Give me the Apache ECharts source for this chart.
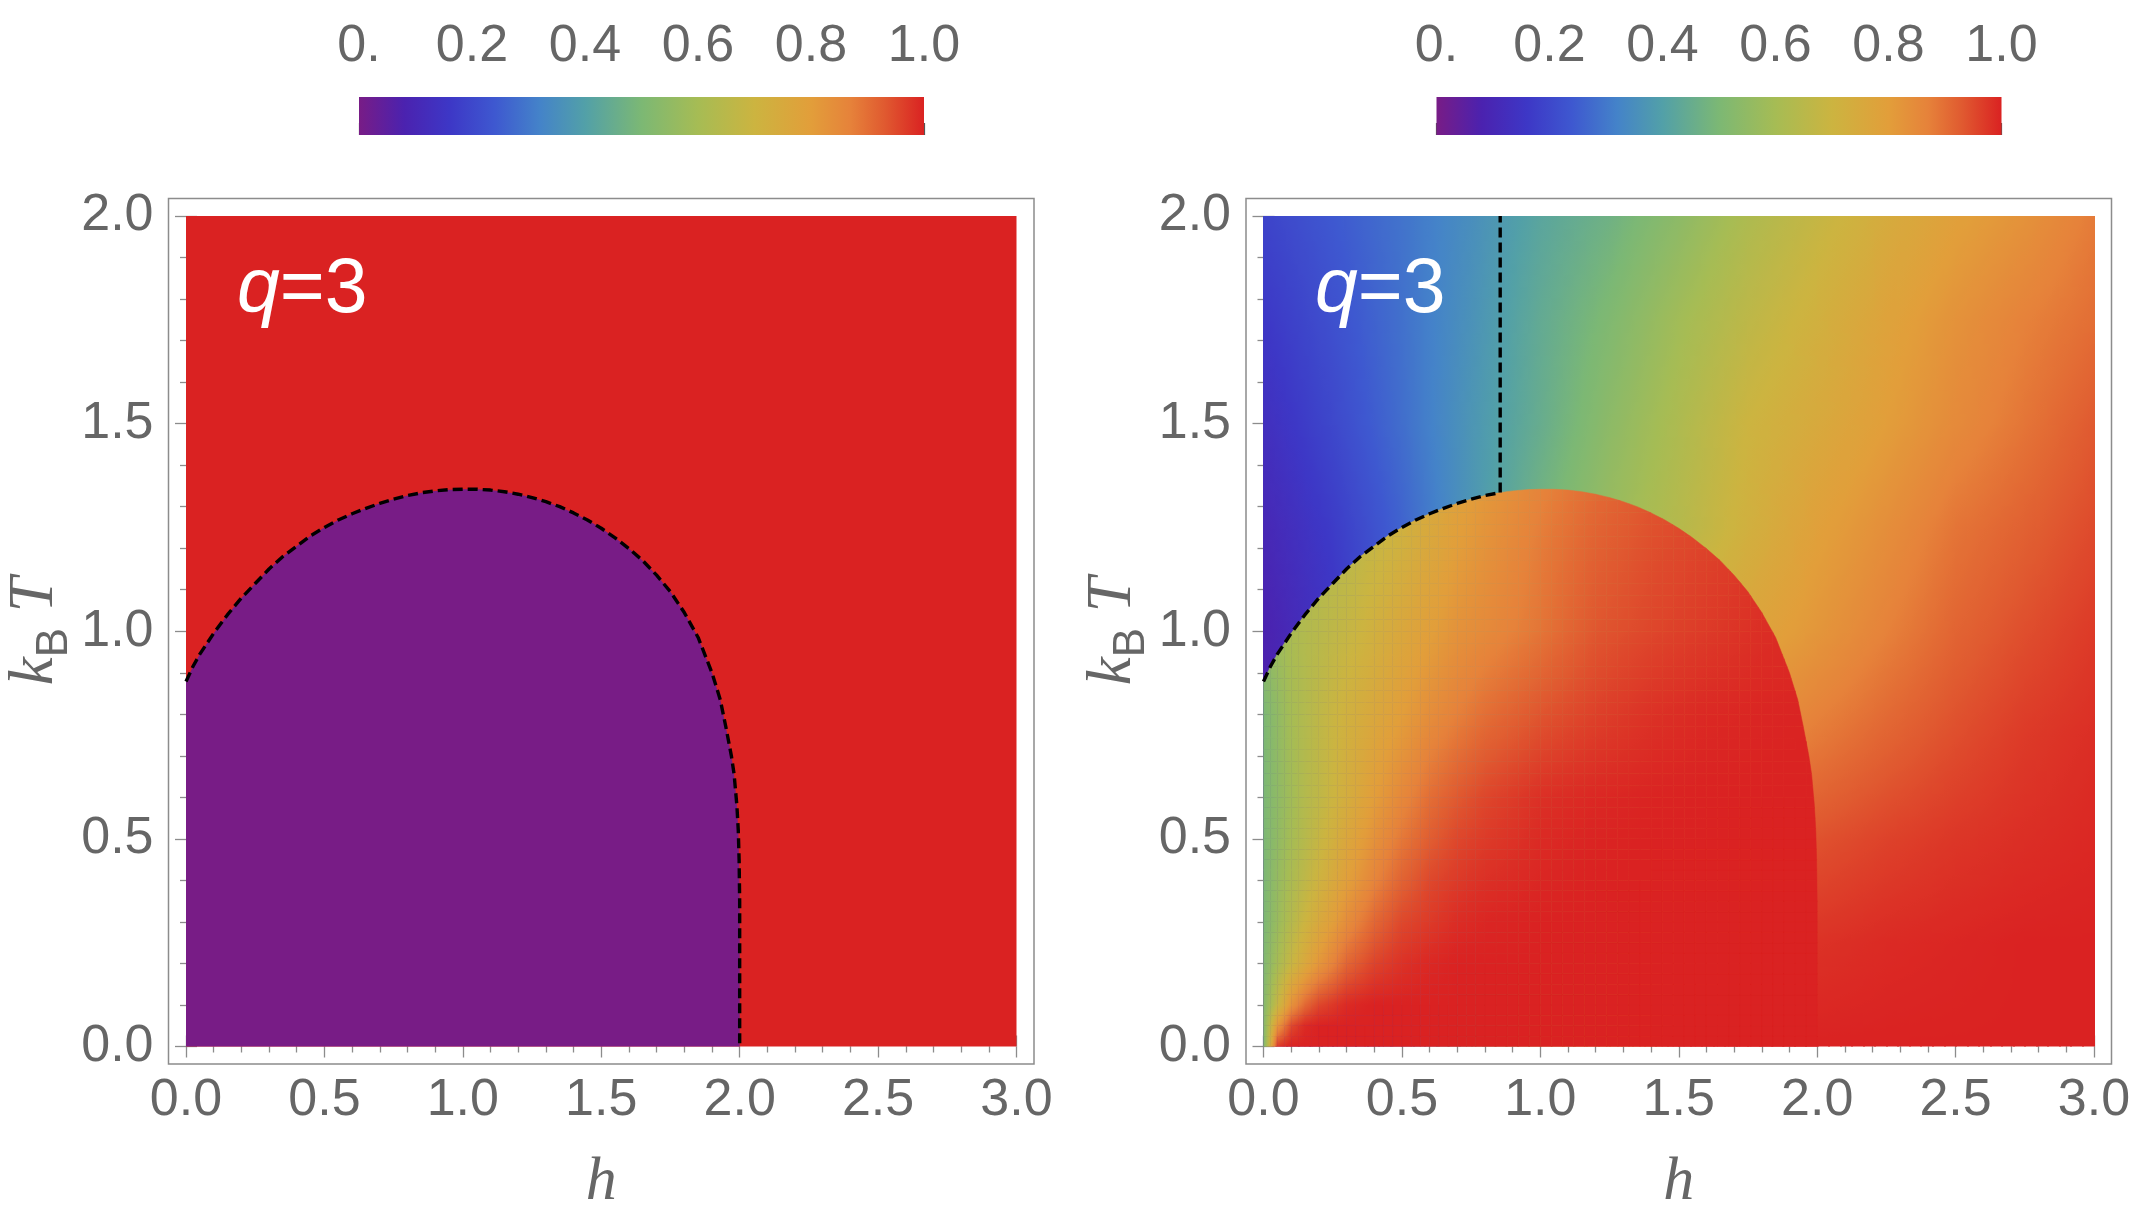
<!DOCTYPE html>
<html>
<head>
<meta charset="utf-8">
<script src="https://cdn.jsdelivr.net/npm/echarts/dist/echarts.min.js"></script>
<style>
html,body{margin:0;padding:0;background:#ffffff;}
#chart{width:2135px;height:1232px;}
</style>
</head>
<body>
<div id="chart"></div>
<script>
// ------------------------------------------------------------------
// DATA
// ------------------------------------------------------------------
const hTickLabels = ['0.0', '0.5', '1.0', '1.5', '2.0', '2.5', '3.0'];
const tTickLabels = ['0.0', '0.5', '1.0', '1.5', '2.0'];
const colorbarTickLabels = ['0.', '0.2', '0.4', '0.6', '0.8', '1.0'];

// colour scale (Mathematica "Rainbow"-like), value -> colour
const rainbowStops = [
  [0.00, '#781c86'], [0.08, '#4b22af'], [0.16, '#3d37c6'], [0.24, '#3e58d0'],
  [0.32, '#4483c9'], [0.40, '#52a0a8'], [0.50, '#7cb874'], [0.60, '#a6bc54'],
  [0.70, '#ccb440'], [0.80, '#e29e3a'], [0.87, '#e6823a'], [0.93, '#e05a30'],
  [1.00, '#da2222']
];

// phase boundary T_c(h) (dashed curve)
const boundaryH = [0.000, 0.025, 0.05, 0.075, 0.10, 0.15, 0.20, 0.25, 0.30, 0.35, 0.40, 0.45, 0.50,
  0.55, 0.60, 0.65, 0.70, 0.75, 0.80, 0.855, 0.90, 0.95, 1.00, 1.05, 1.10, 1.15, 1.20, 1.25,
  1.30, 1.35, 1.40, 1.45, 1.50, 1.55, 1.60, 1.65, 1.70, 1.75, 1.80, 1.85, 1.90, 1.93, 1.95,
  1.97, 1.98, 1.99, 1.995, 1.998, 2.000, 2.000];
const boundaryT = [0.879, 0.915, 0.945, 0.970, 0.995, 1.040, 1.080, 1.115, 1.150, 1.180, 1.205, 1.230, 1.250,
  1.268, 1.283, 1.296, 1.308, 1.318, 1.327, 1.334, 1.338, 1.341, 1.342, 1.342, 1.340, 1.336, 1.330, 1.322,
  1.312, 1.300, 1.285, 1.268, 1.248, 1.225, 1.199, 1.170, 1.135, 1.095, 1.045, 0.985, 0.900, 0.835, 0.770,
  0.700, 0.655, 0.580, 0.520, 0.450, 0.350, 0.000];

// left panel: order parameter outside / inside the dome
const leftOutsideValue = 1.0;
const leftInsideValue = 0.0;

// right panel: position of the vertical dashed line
const crossoverH = 0.855;
const topT = 2.0;

// right panel, field outside the dome (rows: T ascending, columns: h ascending)
const outH = [0, 0.25, 0.5, 0.75, 1.0, 1.25, 1.5, 1.75, 2.0, 2.25, 2.5, 2.75, 3.0];
const outT = [0, 0.25, 0.5, 0.75, 1.0, 1.25, 1.5, 1.75, 2.0];
const outV = [
  [0.04, 0.12, 0.27, 0.44, 0.61, 0.75, 1.00, 1.00, 1.00, 1.00, 1.00, 1.00, 1.00],
  [0.05, 0.12, 0.26, 0.42, 0.58, 0.71, 0.93, 0.96, 0.98, 0.99, 0.995, 1.00, 1.00],
  [0.06, 0.13, 0.25, 0.40, 0.55, 0.67, 0.86, 0.91, 0.94, 0.96, 0.975, 0.985, 0.993],
  [0.07, 0.14, 0.25, 0.38, 0.52, 0.63, 0.78, 0.84, 0.88, 0.915, 0.945, 0.97, 0.985],
  [0.08, 0.15, 0.25, 0.37, 0.50, 0.60, 0.71, 0.77, 0.82, 0.87, 0.915, 0.945, 0.97],
  [0.10, 0.17, 0.26, 0.37, 0.48, 0.57, 0.64, 0.72, 0.79, 0.84, 0.89, 0.92, 0.95],
  [0.13, 0.20, 0.28, 0.37, 0.45, 0.54, 0.62, 0.70, 0.75, 0.80, 0.85, 0.89, 0.93],
  [0.16, 0.22, 0.285, 0.36, 0.44, 0.51, 0.59, 0.66, 0.72, 0.78, 0.83, 0.87, 0.90],
  [0.19, 0.24, 0.29, 0.35, 0.42, 0.47, 0.54, 0.62, 0.68, 0.74, 0.79, 0.83, 0.88]
];

// right panel, field inside the dome (rows: T ascending, columns: h ascending)
const inH = [0, 0.05, 0.1, 0.15, 0.2, 0.3, 0.4, 0.5, 0.6, 0.7, 0.8, 1.0, 1.2, 1.4, 1.6, 1.8, 2.0];
const inT = [0, 0.05, 0.1, 0.2, 0.3, 0.4, 0.5, 0.6, 0.8, 1.0, 1.2, 1.4];
const inV = [
  [0.50, 0.97, 1.00, 1.00, 1.00, 1.00, 1.00, 1.00, 1.00, 1.00, 1.00, 1.00, 1.00, 1.00, 1.00, 1.00, 1.00],
  [0.52, 0.82, 0.95, 0.99, 1.00, 1.00, 1.00, 1.00, 1.00, 1.00, 1.00, 1.00, 1.00, 1.00, 1.00, 1.00, 1.00],
  [0.52, 0.68, 0.83, 0.91, 0.955, 0.99, 1.00, 1.00, 1.00, 1.00, 1.00, 1.00, 1.00, 1.00, 1.00, 1.00, 1.00],
  [0.51, 0.60, 0.685, 0.757, 0.82, 0.912, 0.958, 0.98, 0.993, 1.00, 1.00, 1.00, 1.00, 1.00, 1.00, 1.00, 1.00],
  [0.50, 0.57, 0.637, 0.70, 0.75, 0.842, 0.91, 0.953, 0.97, 0.987, 0.995, 1.00, 1.00, 1.00, 1.00, 1.00, 1.00],
  [0.50, 0.56, 0.614, 0.662, 0.708, 0.792, 0.863, 0.917, 0.953, 0.97, 0.983, 0.995, 1.00, 1.00, 1.00, 1.00, 1.00],
  [0.50, 0.55, 0.60, 0.642, 0.683, 0.762, 0.831, 0.885, 0.925, 0.954, 0.969, 0.99, 0.998, 1.00, 1.00, 1.00, 1.00],
  [0.50, 0.545, 0.59, 0.635, 0.664, 0.733, 0.80, 0.855, 0.90, 0.931, 0.955, 0.983, 0.993, 0.998, 1.00, 1.00, 1.00],
  [0.50, 0.55, 0.60, 0.631, 0.663, 0.717, 0.758, 0.80, 0.842, 0.872, 0.90, 0.937, 0.962, 0.981, 0.992, 0.996, 0.998],
  [0.55, 0.58, 0.61, 0.63, 0.645, 0.68, 0.72, 0.76, 0.795, 0.83, 0.85, 0.89, 0.935, 0.955, 0.97, 0.985, 0.99],
  [0.58, 0.60, 0.61, 0.62, 0.63, 0.65, 0.685, 0.72, 0.76, 0.80, 0.83, 0.88, 0.92, 0.945, 0.96, 0.975, 0.985],
  [0.60, 0.62, 0.63, 0.64, 0.65, 0.67, 0.69, 0.70, 0.74, 0.78, 0.81, 0.86, 0.90, 0.93, 0.95, 0.97, 0.98]
];

// ------------------------------------------------------------------
// helpers
// ------------------------------------------------------------------
function hexToRgb(hx) {
  return [parseInt(hx.substr(1, 2), 16), parseInt(hx.substr(3, 2), 16), parseInt(hx.substr(5, 2), 16)];
}
const stopRgb = rainbowStops.map(s => [s[0], hexToRgb(s[1])]);
function rainbow(v) {
  v = Math.max(0, Math.min(1, v));
  for (let k = 0; k < stopRgb.length - 1; k++) {
    const a = stopRgb[k], b = stopRgb[k + 1];
    if (v <= b[0]) {
      const t = (v - a[0]) / (b[0] - a[0]);
      const c = a[1].map((x, i) => Math.round(x + (b[1][i] - x) * t));
      return 'rgb(' + c.join(',') + ')';
    }
  }
  return rainbowStops[rainbowStops.length - 1][1];
}

function buildCells(hs, ts, vals) {
  const cells = [];
  for (let j = 0; j < ts.length - 1; j++) {
    for (let i = 0; i < hs.length - 1; i++) {
      cells.push([hs[i], ts[j], hs[i + 1], ts[j + 1],
        vals[j][i], vals[j][i + 1], vals[j + 1][i], vals[j + 1][i + 1]]);
    }
  }
  return cells;
}

// gradient fill for a small pixel quad with corner values (plane fit)
function quadFill(p00, p10, p01, p11, v00, v10, v01, v11) {
  const w = p10[0] - p00[0];
  const hh = p01[1] - p00[1];
  const gx = ((v10 - v00) + (v11 - v01)) / (2 * w);
  const gy = ((v01 - v00) + (v11 - v10)) / (2 * hh);
  const cx = (p00[0] + p11[0]) / 2, cy = (p00[1] + p11[1]) / 2;
  const mean = (v00 + v10 + v01 + v11) / 4;
  const g2 = gx * gx + gy * gy;
  if (!isFinite(g2) || g2 < 1e-14) return rainbow(mean);
  let tmin = Infinity, tmax = -Infinity;
  [p00, p10, p01, p11].forEach(p => {
    const t = (p[0] - cx) * gx + (p[1] - cy) * gy;
    if (t < tmin) tmin = t;
    if (t > tmax) tmax = t;
  });
  const va = mean + tmin, vb = mean + tmax;
  const stops = [];
  const n = 3;
  for (let k = 0; k <= n; k++) stops.push({ offset: k / n, color: rainbow(va + (vb - va) * k / n) });
  return {
    type: 'linear', global: true,
    x: cx + gx * tmin / g2, y: cy + gy * tmin / g2,
    x2: cx + gx * tmax / g2, y2: cy + gy * tmax / g2,
    colorStops: stops
  };
}

// dome polygon (data space, counter-clockwise)
const domePoly = [[0, 0]];
for (let k = boundaryH.length - 1; k >= 0; k--) domePoly.push([boundaryH[k], boundaryT[k]]);

function clipToConvex(subject, clip) {
  let output = subject;
  for (let e = 0; e < clip.length; e++) {
    if (!output.length) break;
    const a = clip[e], b = clip[(e + 1) % clip.length];
    const side = p => (b[0] - a[0]) * (p[1] - a[1]) - (b[1] - a[1]) * (p[0] - a[0]);
    const input = output;
    output = [];
    for (let k = 0; k < input.length; k++) {
      const cur = input[k], prev = input[(k + input.length - 1) % input.length];
      const sc = side(cur), sp = side(prev);
      const inter = () => {
        const t = sp / (sp - sc);
        return [prev[0] + t * (cur[0] - prev[0]), prev[1] + t * (cur[1] - prev[1])];
      };
      if (sc >= -1e-12) {
        if (sp < -1e-12) output.push(inter());
        output.push(cur);
      } else if (sp >= -1e-12) {
        output.push(inter());
      }
    }
  }
  return output;
}

// render one data cell, split into small pieces for a smooth (bilinear) look
function renderCell(api, clipPolygon) {
  const c = [0, 1, 2, 3, 4, 5, 6, 7].map(k => api.value(k));
  const h0 = c[0], t0 = c[1], h1 = c[2], t1 = c[3];
  if (clipPolygon) {
    const test = clipToConvex([[h0, t0], [h1, t0], [h1, t1], [h0, t1]], clipPolygon);
    if (test.length < 3) return null;
  }
  const A = api.coord([h0, t0]), B = api.coord([h1, t1]);
  const nx = Math.max(1, Math.ceil(Math.abs(B[0] - A[0]) / 12));
  const ny = Math.max(1, Math.ceil(Math.abs(B[1] - A[1]) / 12));
  const bil = (u, v) => c[4] * (1 - u) * (1 - v) + c[5] * u * (1 - v) + c[6] * (1 - u) * v + c[7] * u * v;
  const children = [];
  for (let a = 0; a < nx; a++) {
    for (let b = 0; b < ny; b++) {
      const u0 = a / nx, u1 = (a + 1) / nx, w0 = b / ny, w1 = (b + 1) / ny;
      const sh0 = h0 + (h1 - h0) * u0, sh1 = h0 + (h1 - h0) * u1;
      const st0 = t0 + (t1 - t0) * w0, st1 = t0 + (t1 - t0) * w1;
      const q00 = api.coord([sh0, st0]), q10 = api.coord([sh1, st0]);
      const q01 = api.coord([sh0, st1]), q11 = api.coord([sh1, st1]);
      const fill = quadFill(q00, q10, q01, q11, bil(u0, w0), bil(u1, w0), bil(u0, w1), bil(u1, w1));
      if (clipPolygon) {
        const poly = clipToConvex([[sh0, st0], [sh1, st0], [sh1, st1], [sh0, st1]], clipPolygon);
        if (poly.length < 3) continue;
        children.push({ type: 'polygon', shape: { points: poly.map(p => api.coord(p)) },
          style: { fill: fill, stroke: fill, lineWidth: 0.5 } });
      } else {
        // slight overlap with the neighbours hides hairline seams
        const x0 = Math.floor(q01[0]), y0 = Math.floor(q01[1]);
        const x1 = Math.ceil(q10[0]) + 1, y1 = Math.ceil(q10[1]) + 1;
        children.push({ type: 'rect',
          shape: { x: x0, y: y0, width: x1 - x0, height: y1 - y0 },
          style: { fill: fill } });
      }
    }
  }
  return { type: 'group', children: children };
}

const boundaryData = boundaryH.map((h, k) => [h, boundaryT[k]]);
const rightDashData = boundaryData.filter(p => p[0] <= crossoverH + 1e-9).concat([[crossoverH, topT]]);

// ------------------------------------------------------------------
// layout / styles
// ------------------------------------------------------------------
const FRAME = '#8c8c8c';
const LABEL = '#666666';
const tickLine = { color: FRAME, width: 1.3 };
const labelFont = { fontSize: 52, color: LABEL, fontFamily: 'Liberation Sans, Arial, sans-serif' };
const dashStyle = { color: '#000', width: 3.4, type: [10, 5] };

function hAxis(grid, pos, withLabel) {
  return {
    type: 'value', gridIndex: grid, position: pos, min: 0, max: 3, interval: 0.5, offset: 17.5,
    axisLine: { show: false }, splitLine: { show: false },
    axisTick: { show: true, inside: true, length: 11, lineStyle: tickLine },
    minorTick: { show: true, splitNumber: 5, length: 6, lineStyle: tickLine },
    axisLabel: withLabel ? Object.assign({ show: true, margin: 11,
      formatter: v => hTickLabels[Math.round(v / 0.5)] }, labelFont) : { show: false },
    name: withLabel ? 'h' : '', nameLocation: 'middle', nameGap: 88,
    nameTextStyle: { fontFamily: 'Liberation Serif, Times New Roman, serif', fontStyle: 'italic', fontSize: 62, color: LABEL }
  };
}
function tAxis(grid, pos, withLabel) {
  return {
    type: 'value', gridIndex: grid, position: pos, min: 0, max: 2, interval: 0.5, offset: 17.5,
    axisLine: { show: false }, splitLine: { show: false },
    axisTick: { show: true, inside: true, length: 11, lineStyle: tickLine },
    minorTick: { show: true, splitNumber: 5, length: 6, lineStyle: tickLine },
    axisLabel: withLabel ? Object.assign({ show: true, margin: 15,
      formatter: v => tTickLabels[Math.round(v / 0.5)] }, labelFont) : { show: false },
    name: withLabel ? '{k|k}{b|B}{t| T}' : '', nameLocation: 'middle', nameGap: 92, nameRotate: 90,
    nameTextStyle: {
      color: LABEL,
      rich: {
        k: { fontFamily: 'Liberation Serif, serif', fontStyle: 'italic', fontSize: 63, color: LABEL, lineHeight: 82 },
        b: { fontFamily: 'Liberation Sans, sans-serif', fontSize: 44, color: LABEL, lineHeight: 44, verticalAlign: 'bottom' },
        t: { fontFamily: 'Liberation Serif, serif', fontStyle: 'italic', fontSize: 63, color: LABEL, lineHeight: 82 }
      }
    }
  };
}
function cbAxis(grid) {
  return {
    type: 'value', gridIndex: grid, position: 'top', min: 0, max: 1, interval: 0.2,
    axisLine: { show: false }, splitLine: { show: false },
    axisTick: { show: true, inside: false, length: 12, lineStyle: { color: '#555', width: 1.2 } },
    minorTick: { show: true, splitNumber: 4, length: 7, lineStyle: { color: '#555', width: 1.2 } },
    axisLabel: Object.assign({ show: true, margin: 24,
      formatter: v => colorbarTickLabels[Math.round(v / 0.2)] }, labelFont)
  };
}
function hidden(grid) {
  return { type: 'value', gridIndex: grid, show: false, min: 0, max: 1 };
}

const cellSeriesBase = {
  type: 'custom', coordinateSystem: 'cartesian2d', silent: true, animation: false,
  encode: { x: 0, y: 1 }
};
function colorbarSeries(axisIdx) {
  return Object.assign({}, cellSeriesBase, {
    xAxisIndex: axisIdx, yAxisIndex: axisIdx, z: 1,
    data: [[0, 0, 1, 1]],
    renderItem: (params, api) => {
      const a = api.coord([api.value(0), api.value(3)]);
      const b = api.coord([api.value(2), api.value(1)]);
      return { type: 'rect', shape: { x: a[0], y: a[1], width: b[0] - a[0], height: b[1] - a[1] },
        style: { fill: { type: 'linear', x: 0, y: 0, x2: 1, y2: 0,
          colorStops: rainbowStops.map(s => ({ offset: s[0], color: s[1] })) } } };
    }
  });
}
function panelText(x) {
  return { type: 'text', x: x, y: 291, z: 100, silent: true,
    style: { text: '{q|q}{e|=3}', verticalAlign: 'middle', align: 'left',
      rich: { q: { fontFamily: 'Liberation Sans, Arial, sans-serif', fontStyle: 'italic', fontSize: 77, fill: '#ffffff', color: '#ffffff' },
              e: { fontFamily: 'Liberation Sans, Arial, sans-serif', fontSize: 77, fill: '#ffffff', color: '#ffffff' } } } };
}

const option = {
  animation: false,
  backgroundColor: '#ffffff',
  textStyle: { fontFamily: 'Liberation Sans, Arial, sans-serif' },
  grid: [
    { left: 186, top: 216, width: 830.5, height: 830.5, outerBoundsMode: 'none' },
    { left: 1263.5, top: 216, width: 830.5, height: 830.5, outerBoundsMode: 'none' },
    { left: 359, top: 97, width: 565, height: 38, outerBoundsMode: 'none' },
    { left: 1436.5, top: 97, width: 565, height: 38, outerBoundsMode: 'none' },
    { left: 168.5, top: 198.5, width: 865.5, height: 865.5, show: true, borderColor: FRAME, borderWidth: 1.5,
      backgroundColor: 'transparent', outerBoundsMode: 'none' },
    { left: 1246, top: 198.5, width: 865.5, height: 865.5, show: true, borderColor: FRAME, borderWidth: 1.5,
      backgroundColor: 'transparent', outerBoundsMode: 'none' }
  ],
  xAxis: [
    hAxis(0, 'bottom', true), hAxis(0, 'top', false),
    hAxis(1, 'bottom', true), hAxis(1, 'top', false),
    cbAxis(2), cbAxis(3),
    hidden(4), hidden(5)
  ],
  yAxis: [
    tAxis(0, 'left', true), tAxis(0, 'right', false),
    tAxis(1, 'left', true), tAxis(1, 'right', false),
    hidden(2), hidden(3), hidden(4), hidden(5)
  ],
  series: [
    // ---- left panel: disordered region (whole plane) ----
    Object.assign({}, cellSeriesBase, {
      xAxisIndex: 0, yAxisIndex: 0, z: 1,
      data: [[0, 0, 3, 2, leftOutsideValue]],
      renderItem: (params, api) => {
        const a = api.coord([api.value(0), api.value(3)]);
        const b = api.coord([api.value(2), api.value(1)]);
        return { type: 'rect', shape: { x: a[0], y: a[1], width: b[0] - a[0], height: b[1] - a[1] },
          style: { fill: rainbow(api.value(4)) } };
      }
    }),
    // ---- left panel: ordered dome + dashed boundary ----
    {
      type: 'line', xAxisIndex: 0, yAxisIndex: 0, z: 3, silent: true, animation: false,
      data: boundaryData, symbol: 'none', smooth: false,
      lineStyle: dashStyle,
      areaStyle: { color: rainbow(leftInsideValue), opacity: 1 }
    },
    // ---- right panel: field outside the dome ----
    Object.assign({}, cellSeriesBase, {
      xAxisIndex: 2, yAxisIndex: 2, z: 1, clip: true,
      data: buildCells(outH, outT, outV),
      renderItem: (params, api) => renderCell(api, null)
    }),
    // ---- right panel: field inside the dome (clipped to the dome) ----
    Object.assign({}, cellSeriesBase, {
      xAxisIndex: 2, yAxisIndex: 2, z: 2,
      data: buildCells(inH, inT, inV),
      renderItem: (params, api) => renderCell(api, domePoly)
    }),
    // ---- right panel: dashed lines ----
    {
      type: 'line', xAxisIndex: 2, yAxisIndex: 2, z: 3, silent: true, animation: false,
      data: rightDashData, symbol: 'none', smooth: false,
      lineStyle: dashStyle
    },
    // ---- colour bars ----
    colorbarSeries(4),
    colorbarSeries(5)
  ],
  graphic: [panelText(237), panelText(1315)]
};

const chart = echarts.init(document.getElementById('chart'), null, { renderer: 'canvas' });
chart.setOption(option);
</script>
</body>
</html>
